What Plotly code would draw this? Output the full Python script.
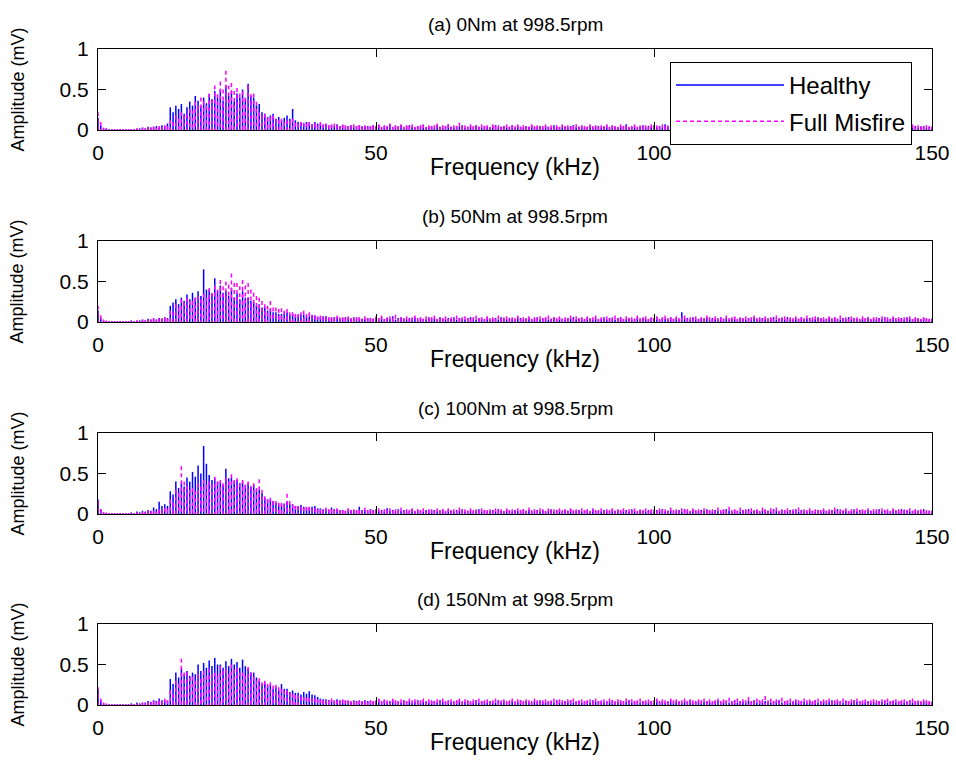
import plotly.graph_objects as go

# ---------------- data ----------------
# Amplitudes in hundredths of mV, one row per 10 kHz (0.5 kHz bins), last row = 150 kHz
panel_titles = ["(a) 0Nm at 998.5rpm", "(b) 50Nm at 998.5rpm",
                "(c) 100Nm at 998.5rpm", "(d) 150Nm at 998.5rpm"]
series_names = ["Healthy", "Full Misfire"]
x_tick_vals = [0, 50, 100, 150]
y_tick_vals = [0, 0.5, 1]
x_label = "Frequency (kHz)"
y_label = "Amplitude (mV)"

healthy_a = [
    [15, 6, 2, 2, 1, 1, 1, 1, 1, 1, 1, 1, 1, 1, 2, 2, 3, 2, 4, 3],
    [4, 5, 3, 6, 5, 8, 28, 22, 30, 26, 32, 20, 28, 35, 30, 42, 36, 30, 40, 33],
    [44, 38, 48, 40, 50, 36, 55, 42, 48, 35, 45, 40, 50, 38, 57, 42, 40, 30, 32, 22],
    [20, 16, 18, 20, 14, 16, 12, 15, 18, 14, 26, 12, 10, 9, 8, 10, 9, 7, 10, 8],
    [8, 6, 7, 5, 6, 5, 7, 5, 6, 4, 5, 6, 4, 5, 6, 4, 5, 5, 4, 6],
    [4, 6, 3, 5, 4, 7, 3, 5, 4, 6, 3, 5, 6, 4, 3, 5, 4, 6, 3, 4],
    [5, 3, 6, 4, 3, 5, 7, 4, 3, 5, 4, 6, 3, 4, 5, 3, 6, 4, 3, 5],
    [4, 3, 5, 6, 3, 4, 5, 3, 4, 6, 3, 5, 4, 3, 5, 4, 6, 3, 4, 5],
    [3, 5, 4, 3, 6, 4, 3, 5, 4, 3, 5, 6, 3, 4, 5, 3, 4, 5, 3, 4],
    [5, 3, 4, 6, 3, 5, 4, 3, 5, 4, 7, 3, 4, 5, 3, 4, 6, 3, 5, 4],
    [6, 4, 5, 3, 7, 4, 5, 3, 6, 4, 3, 5, 4, 6, 3, 5, 4, 3, 5, 4],
    [3, 5, 4, 6, 3, 4, 5, 3, 4, 5, 6, 3, 4, 5, 3, 4, 6, 3, 4, 5],
    [4, 3, 5, 4, 3, 6, 4, 3, 5, 4, 3, 5, 4, 6, 3, 4, 5, 3, 4, 5],
    [3, 4, 5, 3, 6, 4, 3, 5, 4, 3, 5, 4, 6, 3, 4, 5, 3, 4, 5, 3],
    [4, 5, 3, 4, 6, 3, 5, 4, 3, 5, 4, 3, 6, 4, 5, 3, 4, 5, 3, 4],
    [4]]
misfire_a = [
    [22, 10, 3, 2, 1, 1, 1, 1, 1, 1, 1, 1, 1, 1, 2, 1, 3, 2, 3, 3],
    [4, 3, 5, 4, 6, 5, 12, 10, 18, 14, 22, 18, 20, 26, 24, 35, 30, 40, 36, 30],
    [45, 38, 55, 44, 60, 50, 73, 55, 58, 48, 52, 45, 48, 40, 55, 44, 45, 35, 22, 18],
    [20, 15, 16, 18, 14, 12, 14, 10, 12, 11, 14, 9, 8, 10, 9, 8, 10, 7, 8, 6],
    [10, 7, 8, 6, 7, 8, 6, 5, 7, 6, 5, 6, 7, 5, 6, 5, 6, 4, 5, 6],
    [5, 7, 4, 6, 5, 8, 4, 6, 5, 7, 4, 6, 5, 7, 4, 5, 6, 7, 4, 6],
    [5, 6, 8, 4, 6, 5, 7, 4, 6, 5, 9, 5, 6, 4, 7, 5, 6, 4, 7, 5],
    [6, 4, 7, 5, 6, 4, 5, 7, 4, 6, 5, 7, 4, 6, 5, 4, 7, 5, 6, 4],
    [5, 7, 4, 6, 5, 6, 4, 7, 5, 6, 4, 5, 7, 4, 6, 5, 4, 7, 5, 6],
    [4, 6, 5, 7, 4, 6, 5, 4, 7, 5, 6, 4, 5, 7, 4, 6, 5, 6, 4, 7],
    [5, 6, 4, 7, 5, 6, 4, 5, 7, 4, 6, 5, 7, 4, 6, 5, 4, 6, 7, 5],
    [4, 6, 5, 7, 4, 5, 6, 4, 7, 5, 6, 4, 5, 7, 6, 4, 5, 6, 4, 7],
    [5, 4, 6, 7, 4, 5, 6, 4, 7, 5, 4, 6, 5, 7, 4, 6, 5, 4, 6, 5],
    [6, 4, 5, 7, 4, 6, 5, 4, 6, 7, 5, 4, 6, 5, 7, 4, 5, 6, 4, 5],
    [7, 4, 6, 5, 4, 6, 5, 7, 4, 5, 6, 4, 5, 7, 4, 6, 5, 4, 6, 5],
    [4]]
healthy_b = [
    [14, 5, 2, 1, 1, 1, 1, 1, 1, 1, 1, 1, 2, 1, 2, 2, 3, 2, 4, 3],
    [4, 3, 5, 4, 6, 5, 20, 24, 28, 22, 30, 26, 34, 28, 36, 30, 38, 32, 65, 40],
    [40, 35, 54, 38, 45, 36, 38, 32, 42, 30, 35, 28, 38, 30, 30, 26, 25, 20, 22, 18],
    [18, 14, 16, 12, 12, 10, 10, 12, 12, 9, 10, 8, 8, 9, 9, 7, 7, 8, 8, 6],
    [6, 7, 7, 5, 5, 6, 6, 4, 5, 6, 5, 4, 6, 5, 5, 4, 4, 5, 5, 4],
    [5, 4, 6, 3, 5, 4, 7, 3, 5, 6, 4, 3, 5, 4, 6, 3, 5, 4, 3, 6],
    [4, 5, 3, 6, 4, 3, 5, 4, 6, 3, 5, 4, 3, 5, 6, 4, 3, 5, 4, 3],
    [6, 3, 4, 5, 3, 6, 4, 3, 5, 4, 3, 6, 5, 3, 4, 5, 3, 4, 6, 3],
    [4, 5, 3, 4, 6, 3, 5, 4, 3, 5, 4, 6, 3, 4, 5, 3, 6, 4, 3, 5],
    [3, 4, 6, 3, 5, 4, 3, 5, 6, 3, 4, 5, 3, 4, 6, 3, 5, 4, 3, 5],
    [4, 6, 3, 5, 4, 3, 6, 4, 5, 3, 12, 4, 5, 3, 6, 4, 3, 5, 4, 6],
    [3, 5, 4, 3, 6, 4, 5, 3, 4, 6, 3, 5, 4, 3, 5, 4, 6, 3, 4, 5],
    [4, 3, 5, 6, 3, 4, 5, 3, 6, 4, 3, 5, 4, 6, 3, 4, 5, 3, 4, 6],
    [5, 3, 4, 5, 3, 6, 4, 3, 5, 4, 6, 3, 5, 4, 3, 5, 4, 6, 3, 4],
    [3, 5, 4, 6, 3, 4, 5, 3, 4, 5, 3, 6, 4, 3, 5, 4, 3, 5, 4, 3],
    [4]]
misfire_b = [
    [20, 8, 3, 2, 1, 1, 1, 1, 1, 1, 1, 1, 1, 1, 2, 1, 3, 2, 3, 3],
    [5, 3, 4, 5, 6, 4, 14, 12, 22, 18, 28, 24, 30, 26, 26, 30, 32, 28, 35, 30],
    [42, 36, 45, 40, 52, 44, 50, 46, 60, 48, 48, 44, 52, 45, 48, 40, 36, 32, 30, 26],
    [22, 20, 26, 18, 18, 16, 17, 14, 16, 12, 12, 10, 10, 12, 14, 10, 12, 9, 8, 7],
    [8, 6, 7, 6, 6, 5, 8, 6, 6, 5, 7, 5, 5, 6, 6, 4, 7, 5, 5, 4],
    [7, 5, 8, 4, 6, 7, 5, 9, 4, 6, 5, 7, 4, 6, 8, 5, 6, 4, 7, 5],
    [6, 8, 4, 6, 5, 7, 4, 6, 5, 8, 4, 6, 7, 5, 4, 6, 8, 5, 6, 4],
    [7, 5, 6, 4, 8, 5, 6, 7, 4, 6, 5, 8, 4, 6, 5, 7, 4, 6, 5, 7],
    [5, 6, 8, 4, 6, 5, 7, 4, 6, 5, 8, 4, 7, 5, 6, 4, 7, 5, 6, 8],
    [4, 6, 5, 7, 4, 6, 8, 5, 6, 4, 7, 5, 6, 4, 8, 5, 6, 7, 4, 6],
    [5, 7, 4, 6, 8, 5, 6, 4, 7, 5, 6, 8, 4, 6, 5, 7, 4, 6, 5, 8],
    [6, 4, 7, 5, 6, 4, 8, 5, 6, 7, 4, 6, 5, 7, 4, 6, 8, 5, 6, 4],
    [7, 5, 6, 4, 8, 5, 6, 7, 4, 6, 5, 7, 4, 6, 5, 8, 4, 6, 7, 5],
    [5, 6, 4, 7, 5, 6, 4, 8, 5, 6, 4, 7, 5, 6, 4, 7, 5, 6, 4, 6],
    [6, 4, 7, 5, 6, 4, 7, 5, 6, 4, 6, 5, 7, 4, 6, 5, 4, 6, 5, 4],
    [4]]
healthy_c = [
    [18, 6, 2, 1, 1, 1, 1, 1, 1, 1, 1, 1, 2, 1, 3, 2, 4, 3, 5, 4],
    [8, 6, 15, 10, 12, 10, 28, 24, 40, 32, 38, 34, 45, 40, 52, 46, 60, 50, 84, 62],
    [48, 42, 44, 40, 40, 36, 56, 44, 45, 40, 42, 38, 40, 36, 38, 34, 36, 30, 30, 26],
    [20, 18, 18, 16, 14, 12, 12, 13, 15, 12, 12, 10, 10, 11, 9, 8, 8, 9, 10, 7],
    [7, 6, 6, 5, 8, 6, 6, 5, 5, 4, 6, 5, 5, 4, 9, 5, 5, 4, 6, 5],
    [6, 4, 5, 3, 7, 4, 5, 3, 6, 4, 5, 3, 4, 6, 3, 5, 4, 3, 5, 4],
    [4, 5, 3, 4, 6, 3, 5, 4, 3, 5, 4, 6, 3, 4, 5, 3, 4, 6, 3, 5],
    [3, 4, 5, 3, 6, 4, 3, 5, 4, 3, 5, 4, 3, 6, 4, 5, 3, 4, 5, 3],
    [5, 3, 4, 6, 3, 5, 4, 3, 5, 4, 6, 3, 4, 5, 3, 4, 5, 3, 6, 4],
    [4, 3, 5, 4, 3, 6, 4, 5, 3, 4, 5, 3, 6, 4, 3, 5, 4, 3, 5, 4],
    [3, 5, 4, 6, 3, 4, 5, 3, 4, 5, 3, 6, 4, 3, 5, 4, 3, 5, 4, 6],
    [4, 3, 5, 4, 3, 5, 6, 4, 3, 5, 4, 3, 5, 4, 6, 3, 4, 5, 3, 4],
    [5, 4, 3, 6, 4, 3, 5, 4, 3, 5, 4, 6, 3, 5, 4, 3, 5, 4, 3, 5],
    [3, 5, 4, 3, 5, 4, 6, 3, 4, 5, 3, 4, 6, 3, 5, 4, 3, 5, 4, 3],
    [4, 6, 3, 5, 4, 3, 5, 4, 3, 6, 4, 5, 3, 4, 5, 3, 4, 6, 3, 4],
    [4]]
misfire_c = [
    [16, 6, 2, 2, 1, 1, 1, 1, 1, 1, 1, 1, 1, 1, 2, 1, 3, 2, 4, 3],
    [4, 3, 6, 5, 8, 6, 18, 14, 30, 26, 59, 40, 35, 30, 32, 28, 38, 34, 42, 36],
    [40, 36, 46, 40, 42, 38, 45, 40, 49, 42, 44, 38, 42, 36, 40, 34, 38, 32, 43, 30],
    [22, 18, 20, 16, 16, 14, 14, 12, 25, 16, 12, 10, 10, 9, 8, 9, 9, 7, 7, 6],
    [6, 5, 8, 6, 6, 5, 7, 5, 5, 4, 7, 5, 6, 5, 5, 4, 8, 5, 6, 4],
    [5, 7, 4, 6, 5, 7, 4, 6, 5, 8, 4, 6, 5, 7, 4, 6, 5, 7, 4, 6],
    [6, 4, 7, 5, 6, 4, 7, 5, 6, 4, 8, 5, 6, 4, 7, 5, 6, 4, 7, 5],
    [5, 6, 4, 7, 5, 6, 4, 7, 5, 6, 4, 7, 5, 6, 4, 8, 5, 6, 4, 7],
    [6, 4, 7, 5, 6, 4, 7, 5, 6, 4, 7, 5, 6, 4, 7, 5, 6, 4, 7, 5],
    [5, 7, 4, 6, 5, 7, 4, 6, 5, 7, 4, 6, 5, 7, 4, 6, 5, 7, 4, 6],
    [6, 4, 7, 5, 6, 4, 8, 5, 6, 4, 7, 5, 6, 4, 7, 5, 6, 4, 7, 5],
    [5, 6, 4, 8, 5, 6, 4, 9, 5, 6, 4, 8, 5, 6, 4, 7, 5, 6, 4, 8],
    [6, 4, 7, 5, 8, 4, 6, 5, 7, 4, 6, 5, 8, 4, 6, 5, 7, 4, 6, 5],
    [5, 7, 4, 6, 5, 8, 4, 6, 5, 7, 4, 6, 5, 7, 4, 6, 5, 7, 4, 6],
    [6, 4, 7, 5, 6, 4, 7, 5, 6, 4, 6, 5, 7, 4, 6, 5, 6, 4, 5, 4],
    [4]]
healthy_d = [
    [20, 6, 2, 1, 1, 1, 1, 1, 1, 1, 1, 1, 2, 1, 3, 2, 3, 3, 5, 4],
    [6, 5, 8, 6, 6, 5, 32, 26, 40, 34, 45, 38, 42, 36, 40, 38, 50, 42, 52, 46],
    [55, 48, 58, 50, 50, 46, 54, 48, 57, 50, 53, 46, 56, 48, 45, 40, 40, 34, 30, 26],
    [28, 24, 25, 20, 22, 18, 26, 20, 20, 16, 18, 15, 15, 13, 16, 14, 17, 13, 12, 10],
    [8, 7, 7, 6, 6, 5, 7, 6, 6, 5, 5, 4, 6, 5, 5, 4, 6, 5, 5, 4],
    [5, 7, 4, 6, 3, 5, 6, 4, 5, 3, 6, 4, 5, 3, 4, 6, 3, 5, 4, 3],
    [4, 5, 3, 6, 4, 3, 5, 4, 3, 5, 6, 3, 4, 5, 3, 4, 6, 3, 5, 4],
    [3, 5, 4, 3, 6, 4, 5, 3, 4, 5, 3, 4, 6, 3, 5, 4, 3, 5, 4, 6],
    [4, 3, 5, 4, 3, 6, 4, 3, 5, 4, 6, 3, 4, 5, 3, 4, 5, 3, 6, 4],
    [5, 4, 3, 5, 4, 6, 3, 4, 5, 3, 4, 6, 3, 5, 4, 3, 5, 4, 3, 5],
    [3, 6, 4, 5, 3, 4, 6, 3, 5, 4, 3, 5, 4, 6, 3, 4, 5, 3, 4, 5],
    [4, 3, 5, 6, 3, 4, 5, 3, 4, 6, 3, 5, 4, 3, 5, 4, 6, 3, 4, 5],
    [5, 4, 3, 5, 4, 6, 3, 4, 5, 3, 4, 6, 3, 5, 4, 3, 5, 4, 6, 3],
    [4, 5, 3, 4, 6, 3, 5, 4, 3, 5, 4, 3, 6, 4, 5, 3, 4, 5, 3, 4],
    [3, 5, 4, 6, 3, 4, 5, 3, 4, 5, 3, 4, 6, 3, 5, 4, 3, 5, 4, 3],
    [4]]
misfire_d = [
    [22, 8, 3, 2, 1, 1, 1, 1, 1, 1, 1, 1, 1, 1, 2, 1, 3, 2, 4, 3],
    [5, 4, 6, 5, 8, 6, 18, 14, 30, 26, 57, 40, 40, 34, 35, 30, 38, 32, 42, 36],
    [45, 38, 40, 36, 48, 42, 44, 38, 50, 44, 46, 40, 40, 36, 47, 40, 35, 30, 33, 28],
    [30, 26, 28, 24, 25, 22, 20, 18, 18, 15, 14, 12, 12, 10, 10, 9, 9, 8, 8, 7],
    [7, 6, 6, 5, 8, 6, 6, 5, 7, 6, 6, 5, 5, 4, 6, 5, 5, 4, 6, 5],
    [6, 8, 5, 7, 6, 5, 8, 6, 5, 7, 6, 5, 8, 6, 7, 5, 6, 8, 5, 7],
    [6, 5, 7, 6, 8, 5, 6, 7, 5, 6, 8, 5, 7, 6, 5, 7, 6, 8, 5, 6],
    [7, 5, 6, 8, 5, 6, 7, 5, 6, 8, 5, 7, 6, 5, 7, 6, 5, 8, 6, 5],
    [6, 7, 5, 6, 8, 5, 7, 6, 5, 7, 6, 8, 5, 6, 7, 5, 6, 7, 5, 8],
    [5, 6, 7, 5, 8, 6, 5, 7, 6, 5, 8, 6, 7, 5, 6, 8, 5, 6, 7, 5],
    [6, 8, 5, 7, 6, 5, 8, 6, 7, 5, 6, 8, 5, 7, 6, 5, 7, 6, 8, 5],
    [7, 5, 6, 8, 5, 7, 6, 9, 5, 6, 8, 5, 7, 6, 10, 5, 6, 8, 6, 7],
    [11, 6, 8, 5, 7, 6, 9, 5, 6, 8, 5, 7, 6, 5, 8, 6, 7, 5, 6, 8],
    [5, 7, 6, 8, 5, 6, 7, 5, 8, 6, 5, 7, 6, 8, 5, 6, 7, 5, 6, 7],
    [6, 5, 7, 6, 8, 5, 6, 7, 5, 6, 7, 5, 6, 8, 5, 6, 5, 7, 6, 5],
    [4]]

healthy_all = [healthy_a, healthy_b, healthy_c, healthy_d]
misfire_all = [misfire_a, misfire_b, misfire_c, misfire_d]

ROW_SPAN_KHZ = 10.0
BIN_KHZ = 0.5


def spectrum(rows):
    f, a = [], []
    for r, row in enumerate(rows):
        for j, v in enumerate(row):
            f.append(r * ROW_SPAN_KHZ + j * BIN_KHZ)
            a.append(v / 100.0)
    return f, a


def stems(f, a, top_down=False):
    """Dense spectrum drawn as vertical lines between 0 and each bin amplitude."""
    xs, ys = [], []
    for fi, ai in zip(f, a):
        xs += [fi, fi, None]
        ys += ([ai, 0, None] if top_down else [0, ai, None])
    return xs, ys


# ---------------- layout geometry (pixels of the 956x768 page) ----------------
W, H = 956, 768
PLOT_L, PLOT_R = 98, 932
PANEL_TOPS = [49, 241, 433, 624]
PANEL_H = 81
FONT = "Liberation Sans, Arial, Helvetica, sans-serif"
BLUE = "#0000ff"
MAGENTA = "#ff00ff"

fig = go.Figure()
layout_axes = {}
annotations = []
xc = (PLOT_L + PLOT_R) / 2 / W

for k in range(4):
    n = "" if k == 0 else str(k + 1)
    xa, ya = "x" + n, "y" + n
    sx, sy = stems(*spectrum(healthy_all[k]))
    fig.add_trace(go.Scatter(x=sx, y=sy, mode="lines", name=series_names[0],
                             line=dict(color=BLUE, width=1.5),
                             xaxis=xa, yaxis=ya, showlegend=(k == 0),
                             legendgroup="h", connectgaps=False))
    sx, sy = stems(*spectrum(misfire_all[k]), top_down=True)
    fig.add_trace(go.Scatter(x=sx, y=sy, mode="lines", name=series_names[1],
                             line=dict(color=MAGENTA, width=1.5, dash="4px,3px"),
                             xaxis=xa, yaxis=ya, showlegend=(k == 0),
                             legendgroup="m", connectgaps=False))
    top = PANEL_TOPS[k]
    bot = top + PANEL_H
    ydom = [1 - bot / H, 1 - top / H]
    common = dict(showline=True, linecolor="black", linewidth=1, mirror="allticks",
                  ticks="inside", ticklen=8, tickwidth=1, tickcolor="black",
                  showgrid=False, zeroline=False, automargin=False,
                  tickfont=dict(family=FONT, size=21, color="black"))
    layout_axes["xaxis" + n] = dict(
        domain=[PLOT_L / W, PLOT_R / W], range=[0, 150], anchor=ya,
        tickmode="array", tickvals=x_tick_vals,
        ticktext=[str(v) for v in x_tick_vals], ticklabelstandoff=4,
        **common)
    layout_axes["yaxis" + n] = dict(
        domain=ydom, range=[0, 1], anchor=xa,
        tickmode="array", tickvals=y_tick_vals,
        ticktext=["0", "0.5", "1"], ticklabelstandoff=4,
        **common)
    annotations.append(dict(
        text=panel_titles[k], xref="paper", yref="paper",
        x=xc, y=1 - (top - 25) / H,
        xanchor="center", yanchor="middle", showarrow=False,
        font=dict(family=FONT, size=19, color="black")))
    annotations.append(dict(
        text=x_label, xref="paper", yref="paper",
        x=xc, y=1 - (bot + 37) / H,
        xanchor="center", yanchor="middle", showarrow=False,
        font=dict(family=FONT, size=23, color="black")))
    annotations.append(dict(
        text=y_label, xref="paper", yref="paper", textangle=-90,
        x=17 / W, y=1 - (top + bot) / 2 / H,
        xanchor="center", yanchor="middle", showarrow=False,
        font=dict(family=FONT, size=18, color="black")))

fig.update_layout(
    width=W, height=H,
    margin=dict(l=0, r=0, t=0, b=0, autoexpand=False),
    paper_bgcolor="white", plot_bgcolor="white",
    font=dict(family=FONT, color="black"),
    annotations=annotations,
    legend=dict(x=670 / W, y=1 - 62 / H, xanchor="left", yanchor="top",
                bgcolor="white", bordercolor="black", borderwidth=1,
                font=dict(family=FONT, size=24, color="black"),
                itemwidth=108, tracegroupgap=2),
    **layout_axes,
)

fig.write_html("out.html")
